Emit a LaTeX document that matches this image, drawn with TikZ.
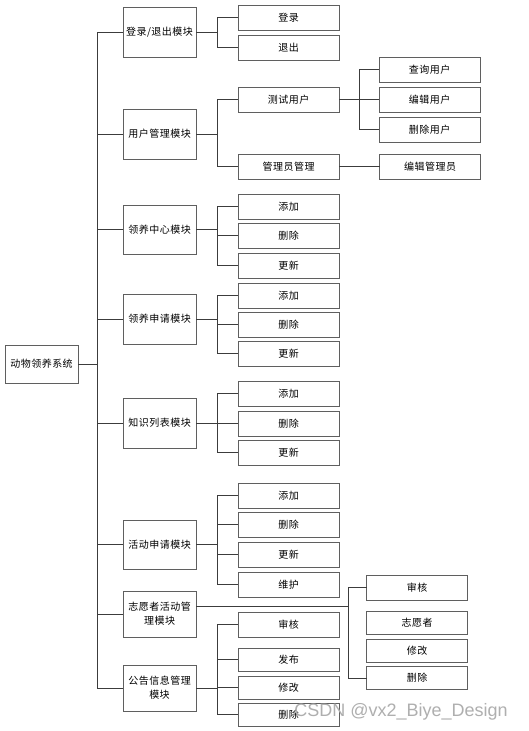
\documentclass[tikz,border=0pt]{standalone}
\usepackage{fontspec}
\newfontfamily\cjk[LetterSpace=5]{Noto Sans CJK SC}
\newfontfamily\wmfont{Liberation Sans}
\definecolor{boxline}{RGB}{95,95,95}
\definecolor{connline}{RGB}{60,60,60}
\definecolor{wmgray}{RGB}{175,175,175}
\begin{document}
\begin{tikzpicture}[x=1pt,y=-1pt,
  box/.style={draw=boxline,line width=1pt,inner sep=0pt,outer sep=0pt,
     font=\cjk\fontsize{10}{14}\selectfont,align=center,fill=white},
  modbox/.style={box,minimum width=73pt,minimum height=50pt},
  leafbox/.style={box,minimum width=101pt,minimum height=25pt},
  conn/.style={draw=connline,line width=0.9pt}]
\useasboundingbox (0,0) rectangle (528,731);
\fill[white] (0,0) rectangle (528,731);
% root
\node[box,minimum width=73pt,minimum height=38pt] (root) at (41.5,364) {动物领养系统};
% modules
\node[modbox] (lg) at (159.5,32) {登录/退出模块};
\node[modbox] (yh) at (159.5,134) {用户管理模块};
\node[modbox,minimum height=49pt] (lyzx) at (159.5,229.5) {领养中心模块};
\node[modbox] (lysq) at (159.5,319) {领养申请模块};
\node[modbox] (zs) at (159.5,423) {知识列表模块};
\node[modbox,minimum height=49pt] (hd) at (159.5,544.5) {活动申请模块};
\node[modbox,minimum height=46pt] (zy) at (159.5,614) {志愿者活动管\\理模块};
\node[modbox,minimum height=46pt] (gg) at (159.5,688) {公告信息管理\\模块};
% level 2
\node[leafbox] (a1) at (288.5,17.5) {登录};
\node[leafbox] (a2) at (288.5,47.5) {退出};
\node[leafbox] (b1) at (288.5,99.5) {测试用户};
\node[leafbox] (b2) at (288.5,166.5) {管理员管理};
\node[leafbox] (c1) at (288.5,206.5) {添加};
\node[leafbox] (c2) at (288.5,235.5) {删除};
\node[leafbox] (c3) at (288.5,265.5) {更新};
\node[leafbox] (d1) at (288.5,295.5) {添加};
\node[leafbox] (d2) at (288.5,324.5) {删除};
\node[leafbox] (d3) at (288.5,353.5) {更新};
\node[leafbox] (e1) at (288.5,393.5) {添加};
\node[leafbox] (e2) at (288.5,423.5) {删除};
\node[leafbox] (e3) at (288.5,452.5) {更新};
\node[leafbox] (f1) at (288.5,495.5) {添加};
\node[leafbox] (f2) at (288.5,524.5) {删除};
\node[leafbox] (f3) at (288.5,554.5) {更新};
\node[leafbox] (f4) at (288.5,584.5) {维护};
\node[leafbox] (g1) at (288.5,624.5) {审核};
\node[leafbox,minimum height=23pt] (g2) at (288.5,659.5) {发布};
\node[leafbox,minimum height=23pt] (g3) at (288.5,687.5) {修改};
\node[leafbox,minimum height=23pt] (g4) at (288.5,714.5) {删除};
% level 3 user
\node[leafbox] (u1) at (429.5,69.5) {查询用户};
\node[leafbox] (u2) at (429.5,99.5) {编辑用户};
\node[leafbox] (u3) at (429.5,129.5) {删除用户};
\node[leafbox] (u4) at (430,166.5) {编辑管理员};
% volunteer
\node[leafbox] (v1) at (417,587.5) {审核};
\node[leafbox,minimum height=23pt] (v2) at (417,623) {志愿者};
\node[leafbox,minimum height=23pt] (v3) at (417,650.5) {修改};
\node[leafbox,minimum height=23pt] (v4) at (417,678) {删除};
% trunk
\coordinate (tr) at (97,0);
\draw[conn] (tr |- lg.west) -- (tr |- gg.west);
\draw[conn] (root.east) -- (tr |- root.east);
\foreach \m in {lg,yh,lyzx,lysq,zs,hd,zy,gg}{\draw[conn] (tr |- \m.west) -- (\m.west);}
% level 2 branches
\foreach \p/\cs in {lg/{a1,a2},yh/{b1,b2},lyzx/{c1,c2,c3},lysq/{d1,d2,d3},zs/{e1,e2,e3},hd/{f1,f2,f3,f4},gg/{g1,g2,g3,g4}}{
  \foreach \c in \cs {\draw[conn] (\p.east) -- ([xshift=21pt]\p.east) |- (\c.west);}
}
% user level 3
\foreach \c in {u1,u2,u3}{\draw[conn] (b1.east) -- ([xshift=20pt]b1.east) |- (\c.west);}
\draw[conn] (b2.east) -- (u4.west);
% volunteer
\coordinate (zyo) at ([yshift=8pt]zy.east);
\coordinate (vb) at (348,0);
\draw[conn] (zyo) -- (vb |- zyo);
\draw[conn] (v1.west) -| (vb |- v4.west) -- (v4.west);
% watermark
\node[font=\wmfont\fontsize{18}{20}\selectfont,text=wmgray,inner sep=0pt] (wm) at (401,712) {CSDN @vx2\_Biye\_Design};
\end{tikzpicture}
\end{document}
